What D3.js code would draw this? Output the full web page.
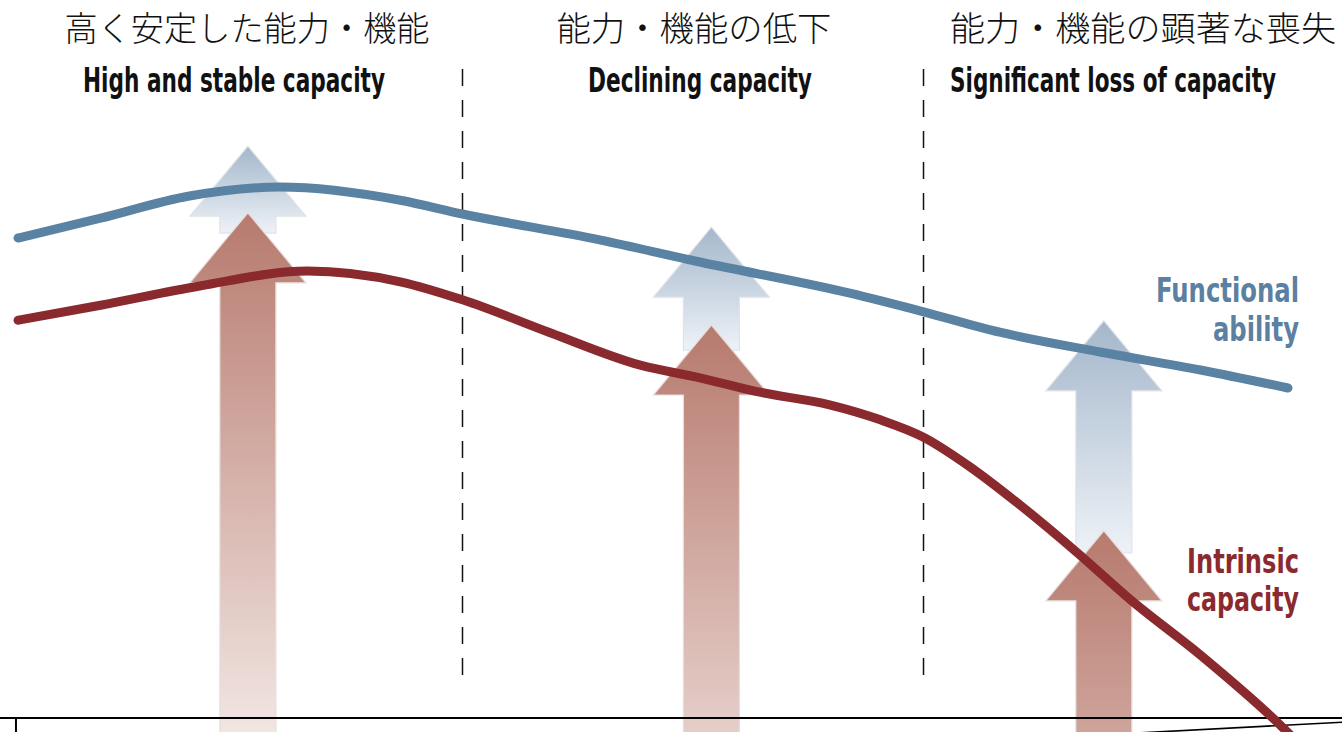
<!DOCTYPE html>
<html>
<head>
<meta charset="utf-8">
<script src="https://cdn.jsdelivr.net/npm/d3@7"></script>
<style>
  html, body { margin: 0; padding: 0; background: #fff; overflow: hidden; }
  #chart { width: 1342px; height: 732px; }
</style>
</head>
<body>
<div id="chart"></div>
<script>
// Phases of the life course (headings)
const phaseJa = ['高く安定した能力・機能', '能力・機能の低下', '能力・機能の顕著な喪失'];
const phaseEn = ['High and stable capacity', 'Declining capacity', 'Significant loss of capacity'];
const phaseBreaks = [35.0, 71.3];

// Curves (x = life course 0..100, y = level 0..100)
const functionalX = [0, 6.5, 13.5, 20.6, 30.1, 35.0, 45.8, 53.7, 65.5, 71.3, 77.3, 85.2, 93.1, 100];
const functionalY = [80.0, 83.3, 87.0, 88.5, 86.3, 84.0, 79.7, 76.0, 70.8, 67.7, 64.3, 61.0, 58.0, 55.0];
const intrinsicX = [0, 6.5, 14.3, 22.8, 30.1, 35.0, 41.9, 49.0, 53.7, 58.4, 63.9, 67.9, 71.3, 75.0, 78.9, 83.6, 87.6, 93.1, 99.4, 100.6];
const intrinsicY = [66.3, 68.8, 72.0, 74.5, 72.7, 69.7, 64.2, 58.8, 56.7, 54.3, 52.2, 49.7, 46.8, 41.8, 35.5, 27.2, 19.7, 10.5, -1.2, -3.7];

// Arrows
const arrowX = [18.1, 54.6, 85.5];
const functionalArrowTop = [95.3, 81.8, 66.2];
const functionalArrowEnd = [80.8, 61.3, 27.5];
const intrinsicArrowTop = [84.2, 65.5, 31.2];

const lineLabels = [
  { lines: ['Functional', 'ability'], cls: 'functional' },
  { lines: ['Intrinsic', 'capacity'], cls: 'intrinsic' }
];

// baseline tail at the bottom right
const tailX = [88.1, 104.3];
const tailY = [-2.5, -0.7];

const W = 1342, H = 732;
const blue = '#5a82a3', red = '#8a2a2e';

const svg = d3.select('#chart').append('svg')
    .attr('width', W)
    .attr('height', H);

const x = d3.scaleLinear().domain([0, 100]).range([18, 1288]);
const y = d3.scaleLinear().domain([0, 100]).range([718, 118]);

const defs = svg.append('defs');

// gradients for the arrows
arrowX.forEach((ax, i) => {
    const gb = defs.append('linearGradient')
        .attr('id', 'gb' + i)
        .attr('x1', 0).attr('y1', 0).attr('x2', 0).attr('y2', 1);
    gb.append('stop').attr('offset', '0%').attr('stop-color', '#a4b7cb');
    gb.append('stop').attr('offset', '100%').attr('stop-color', '#eef2f7');

    const top = y(intrinsicArrowTop[i]);
    const gr = defs.append('linearGradient')
        .attr('id', 'gr' + i)
        .attr('gradientUnits', 'userSpaceOnUse')
        .attr('x1', 0).attr('y1', top).attr('x2', 0).attr('y2', top + 560);
    gr.append('stop').attr('offset', '0%').attr('stop-color', '#b77a6e');
    gr.append('stop').attr('offset', '100%').attr('stop-color', '#f6eeeb');
});

// Headings
const jaPos = [{x: 247, w: 365}, {x: 694, w: 275}, {x: 1143, w: 386}];
const enPos = [{x: 234, w: 302}, {x: 700, w: 224}, {x: 1113, w: 326}];

svg.selectAll('.ja')
    .data(phaseJa)
    .enter()
    .append('text')
    .attr('class', 'ja')
    .attr('x', (d, i) => jaPos[i].x)
    .attr('y', 41)
    .attr('text-anchor', 'middle')
    .attr('textLength', (d, i) => jaPos[i].w)
    .attr('lengthAdjust', 'spacingAndGlyphs')
    .style('font-family', '"Noto Sans CJK JP", sans-serif')
    .style('font-weight', 300)
    .style('font-size', '34px')
    .style('fill', '#111')
    .text(d => d);

svg.selectAll('.en')
    .data(phaseEn)
    .enter()
    .append('text')
    .attr('class', 'en')
    .attr('x', (d, i) => enPos[i].x)
    .attr('y', 92)
    .attr('text-anchor', 'middle')
    .attr('textLength', (d, i) => enPos[i].w)
    .attr('lengthAdjust', 'spacingAndGlyphs')
    .style('font-family', '"Liberation Sans Narrow", "DejaVu Sans Condensed", sans-serif')
    .style('font-weight', 'bold')
    .style('font-size', '33px')
    .style('fill', '#111')
    .text(d => d);

// Dashed dividers
svg.selectAll('.divider')
    .data(phaseBreaks)
    .enter()
    .append('line')
    .attr('class', 'divider')
    .attr('x1', d => x(d)).attr('x2', d => x(d))
    .attr('y1', 69).attr('y2', 678)
    .attr('stroke', '#111')
    .attr('stroke-width', 1.5)
    .attr('stroke-dasharray', '17,14');

// Arrows
const headLen = 70, headHalf = 58, shaftHalf = 28;
function arrowPath(cx, tip, end) {
    const base = tip + headLen;
    return `M${cx},${tip} L${cx + headHalf},${base} L${cx + shaftHalf},${base} ` +
           `L${cx + shaftHalf},${end} L${cx - shaftHalf},${end} L${cx - shaftHalf},${base} ` +
           `L${cx - headHalf},${base} Z`;
}

arrowX.forEach((ax, i) => {
    svg.append('path')
        .attr('d', arrowPath(x(ax), y(functionalArrowTop[i]), y(functionalArrowEnd[i])))
        .attr('fill', `url(#gb${i})`)
        .attr('stroke', '#dfe3e8')
        .attr('stroke-width', 1.2);
});

arrowX.forEach((ax, i) => {
    svg.append('path')
        .attr('d', arrowPath(x(ax), y(intrinsicArrowTop[i]), H + 10))
        .attr('fill', `url(#gr${i})`)
        .attr('stroke', '#e6dedc')
        .attr('stroke-width', 1.2);
});

// Axis lines
svg.append('line')
    .attr('x1', 0).attr('x2', W)
    .attr('y1', y(0)).attr('y2', y(0))
    .attr('stroke', '#000')
    .attr('stroke-width', 2);

svg.append('line')
    .attr('x1', x(-0.16)).attr('x2', x(-0.16))
    .attr('y1', y(0)).attr('y2', H)
    .attr('stroke', '#000')
    .attr('stroke-width', 2);

svg.append('line')
    .attr('x1', x(tailX[0])).attr('y1', y(tailY[0]))
    .attr('x2', x(tailX[1])).attr('y2', y(tailY[1]))
    .attr('stroke', '#000')
    .attr('stroke-width', 1.6);

// Curves
const line = d3.line()
    .x(d => x(d[0]))
    .y(d => y(d[1]))
    .curve(d3.curveMonotoneX);

svg.append('path')
    .datum(d3.zip(functionalX, functionalY))
    .attr('d', line)
    .attr('fill', 'none')
    .attr('stroke', blue)
    .attr('stroke-width', 9)
    .attr('stroke-linecap', 'round');

svg.append('path')
    .datum(d3.zip(intrinsicX, intrinsicY))
    .attr('d', line)
    .attr('fill', 'none')
    .attr('stroke', red)
    .attr('stroke-width', 9)
    .attr('stroke-linecap', 'round');

// Curve labels
const labelPos = [
    { base: [302, 341], w: [143, 86], color: '#5b80a1' },
    { base: [573, 611], w: [112, 112], color: '#8b2a2e' }
];

lineLabels.forEach((lab, i) => {
    svg.selectAll('.lab' + i)
        .data(lab.lines)
        .enter()
        .append('text')
        .attr('class', 'lab' + i)
        .attr('x', 1299)
        .attr('y', (d, j) => labelPos[i].base[j])
        .attr('text-anchor', 'end')
        .attr('textLength', (d, j) => labelPos[i].w[j])
        .attr('lengthAdjust', 'spacingAndGlyphs')
        .style('font-family', '"Liberation Sans Narrow", "DejaVu Sans Condensed", sans-serif')
        .style('font-weight', 'bold')
        .style('font-size', '34px')
        .style('fill', labelPos[i].color)
        .text(d => d);
});
</script>
</body>
</html>
